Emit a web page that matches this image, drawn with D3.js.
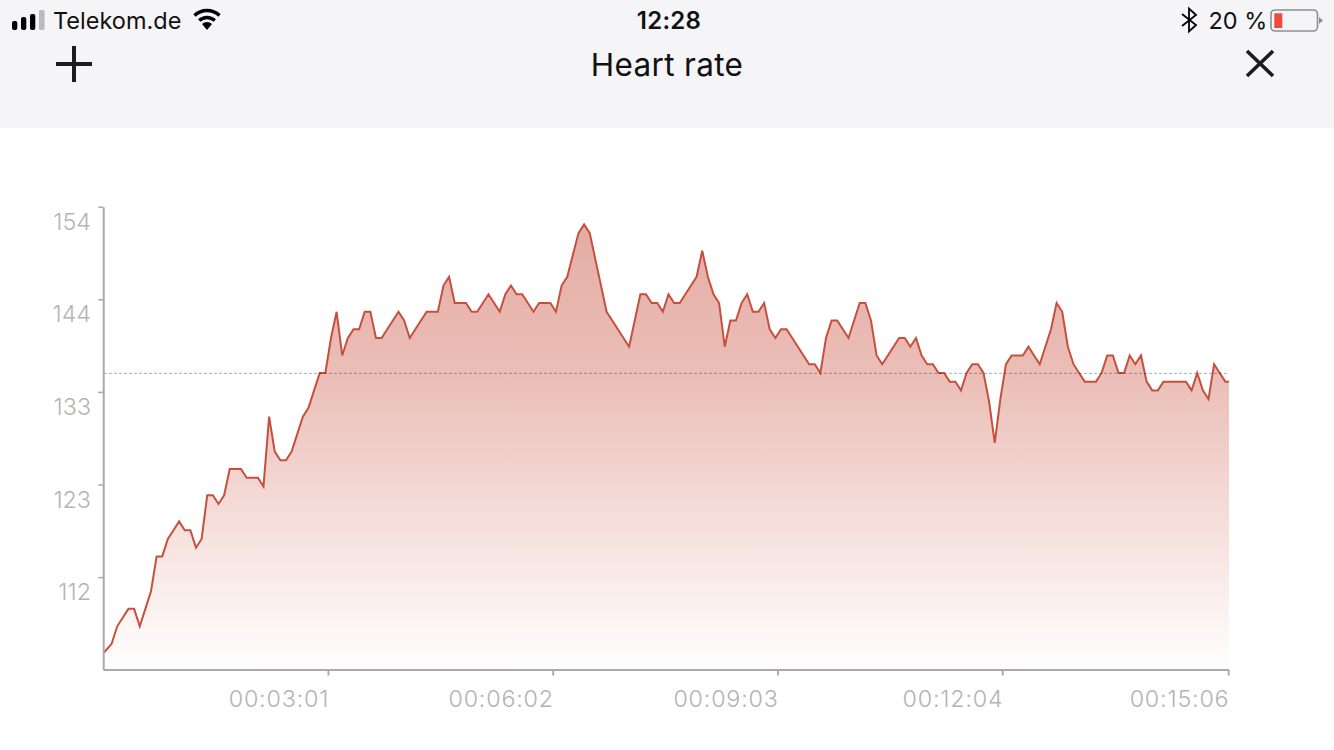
<!DOCTYPE html>
<html><head><meta charset="utf-8">
<script src="https://cdnjs.cloudflare.com/ajax/libs/d3/7.8.5/d3.min.js"></script>
<style>html,body{margin:0;padding:0;background:#fff}svg{display:block}text{font-family:Inter,"Noto Sans",sans-serif}</style>
</head><body><svg id="c" width="1334" height="750"></svg>
<script>
const heartRate=[104,105,107,108,109,109,107,109,111,115,115,117,118,119,118,118,116,117,122,122,121,122,125,125,125,124,124,124,123,131,127,126,126,127,129,131,132,134,136,136,
140,143,138,140,141,141,143,143,140,140,141,142,143,142,140,141,142,143,143,143,146,147,144,144,144,143,143,144,145,144,143,145,146,145,145,144,143,144,144,144,
143,146,147,149.5,152,153,152,149,146,143,142,141,140,139,142,145,145,144,144,143,145,144,144,145,146,147,150,147,145,144,139,142,142,144,145,143,143,144,141,140,
141,141,140,139,138,137,137,136,140,142,142,141,140,142,144,144,142,138,137,138,139,140,140,139,140,138,137,137,136,136,135,135,134,136,137,137,136,132.7,128,133,
137,138,138,138,139,138,137,139,141,144,143,139,137,136,135,135,135,136,138,138,136,136,138,137,138,135,134,134,135,135,135,135,135,134,136,134,133,137,136,135,135];
const averageRate=135.95;
const yTickLabels=["112","123","133","144","154"];
const xTickSeconds=[181,362,543,724,906];
const xTickLabels=["00:03:01","00:06:02","00:09:03","00:12:04","00:15:06"];
const yMin=102,yMax=154.99,totalSeconds=906,sampleStep=4.53,sampleOffset=1.6;

const svg=d3.select("#c");
const x=d3.scaleLinear().domain([0,totalSeconds]).range([104,1229]);
const y=d3.scaleLinear().domain([yMin,yMax]).range([670,207]);
const sec=i=>i===0?0:Math.min(totalSeconds,sampleOffset+i*sampleStep);

// header
svg.append("rect").attr("width",1334).attr("height",128).attr("fill","#f5f5f8");
const T=(s,xx,yy,size,anchor,weight,ls)=>svg.append("text").text(s).attr("x",xx).attr("y",yy).attr("font-size",size).attr("text-anchor",anchor||"start").attr("font-weight",weight||400).attr("letter-spacing",ls||0).attr("fill","#111");
T("Telekom.de",53,29,23.5);
T("12:28",669,29,24,"middle",600,.3);
T("20 %",1208.5,29,23.5);
T("Heart rate",667,76,31.5,"middle",400,.35);
// signal
[[12,21,9],[21,17,13],[30,14,16]].forEach(d=>svg.append("rect").attr("x",d[0]).attr("y",d[1]).attr("width",5.3).attr("height",d[2]).attr("rx",2).attr("fill","#000"));
svg.append("rect").attr("x",39).attr("y",10).attr("width",5.6).attr("height",20).attr("rx",1.5).attr("fill","#bbb");
// wifi
const wifi=svg.append("g").attr("transform","translate(207,30)").attr("fill","none").attr("stroke","#000").attr("stroke-width",3.4);
wifi.append("path").attr("d","M-12.5,-14.5 A18,18 0 0 1 12.5,-14.5");
wifi.append("path").attr("d","M-7.8,-9.5 A11.5,11.5 0 0 1 7.8,-9.5");
wifi.append("path").attr("d","M-5,-6 L0,0 L5,-6 A7,7 0 0 0 -5,-6Z").attr("fill","#000").attr("stroke","none");
// bluetooth
svg.append("path").attr("d","M1182,14 L1196,25 L1189,31.5 L1189,8.5 L1196,15 L1182,26").attr("fill","none").attr("stroke","#000").attr("stroke-width",1.8);
// battery
svg.append("rect").attr("x",1271).attr("y",10).attr("width",46.5).attr("height",21).attr("rx",4).attr("fill","none").attr("stroke","#8e8e8e").attr("stroke-width",1.6);
svg.append("rect").attr("x",1274.3).attr("y",13.3).attr("width",8).attr("height",14.7).attr("fill","#ee4b3d");
svg.append("path").attr("d","M1319,17 L1323,20.5 L1319,24Z").attr("fill","#8e8e8e");
// plus and close
svg.append("path").attr("d","M74,46 V82 M56,64 H92").attr("stroke","#1c1c1e").attr("stroke-width",4).attr("fill","none");
svg.append("path").attr("d","M1247,51 L1273,76 M1273,51 L1247,76").attr("stroke","#1c1c1e").attr("stroke-width",3.6).attr("fill","none");

// gradient
const defs=svg.append("defs");
const g=defs.append("linearGradient").attr("id","grad").attr("gradientUnits","userSpaceOnUse").attr("x1",0).attr("x2",0).attr("y1",y(153)).attr("y2",670);
g.append("stop").attr("offset",0).attr("stop-color","#e4aca3");
g.append("stop").attr("offset",.35).attr("stop-color","#ebbfb8");
g.append("stop").attr("offset",1).attr("stop-color","#ffffff");

const area=d3.area().x((d,i)=>x(sec(i))).y0(y(yMin)).y1(d=>y(d)).curve(d3.curveLinear);
const line=d3.line().x((d,i)=>x(sec(i))).y(d=>y(d)).curve(d3.curveLinear);
svg.append("path").datum(heartRate).attr("d",area).attr("fill","url(#grad)");
svg.append("path").datum(heartRate).attr("d",line).attr("fill","none").attr("stroke","#c6503d").attr("stroke-width",2);

// average
svg.append("line").attr("x1",104).attr("x2",1229).attr("y1",y(averageRate)).attr("y2",y(averageRate)).attr("stroke","#000").attr("stroke-opacity",.32).attr("stroke-width",1).attr("stroke-dasharray","3 2");

// axes
const axisX=d3.axisBottom(x).tickValues(xTickSeconds).tickSizeInner(6).tickSizeOuter(0).tickFormat("");
const gx=svg.append("g").attr("transform","translate(-0.8,669.5)").call(axisX);
const yTickValues=yTickLabels.map((d,k)=>yMin+(yMax-yMin)*(k+1)/yTickLabels.length);
const axisY=d3.axisLeft(y).tickValues(yTickValues).tickSizeInner(5).tickSizeOuter(0).tickFormat("");
const gy=svg.append("g").attr("transform","translate(103.2,-0.3)").call(axisY);
svg.selectAll(".domain").attr("stroke","#aaa").attr("stroke-width",2);
gx.selectAll("line").attr("stroke","#aaa").attr("stroke-width",2);
gy.selectAll("line").attr("stroke","#aaa").attr("stroke-width",1.5);
svg.append("g").selectAll("text").data(xTickSeconds).join("text").text((d,i)=>xTickLabels[i]).attr("x",d=>x(d)+.4).attr("y",707).attr("text-anchor","end").attr("font-size",23.3).attr("font-weight",300).attr("letter-spacing",.8).attr("fill","#b4b4b4");
svg.append("g").selectAll("text").data(yTickLabels).join("text").text(d=>d).attr("x",91).attr("y",(d,i)=>y(yTickValues[i])+22.7).attr("text-anchor","end").attr("font-size",23.3).attr("font-weight",300).attr("fill","#b4b4b4");
</script></body></html>
